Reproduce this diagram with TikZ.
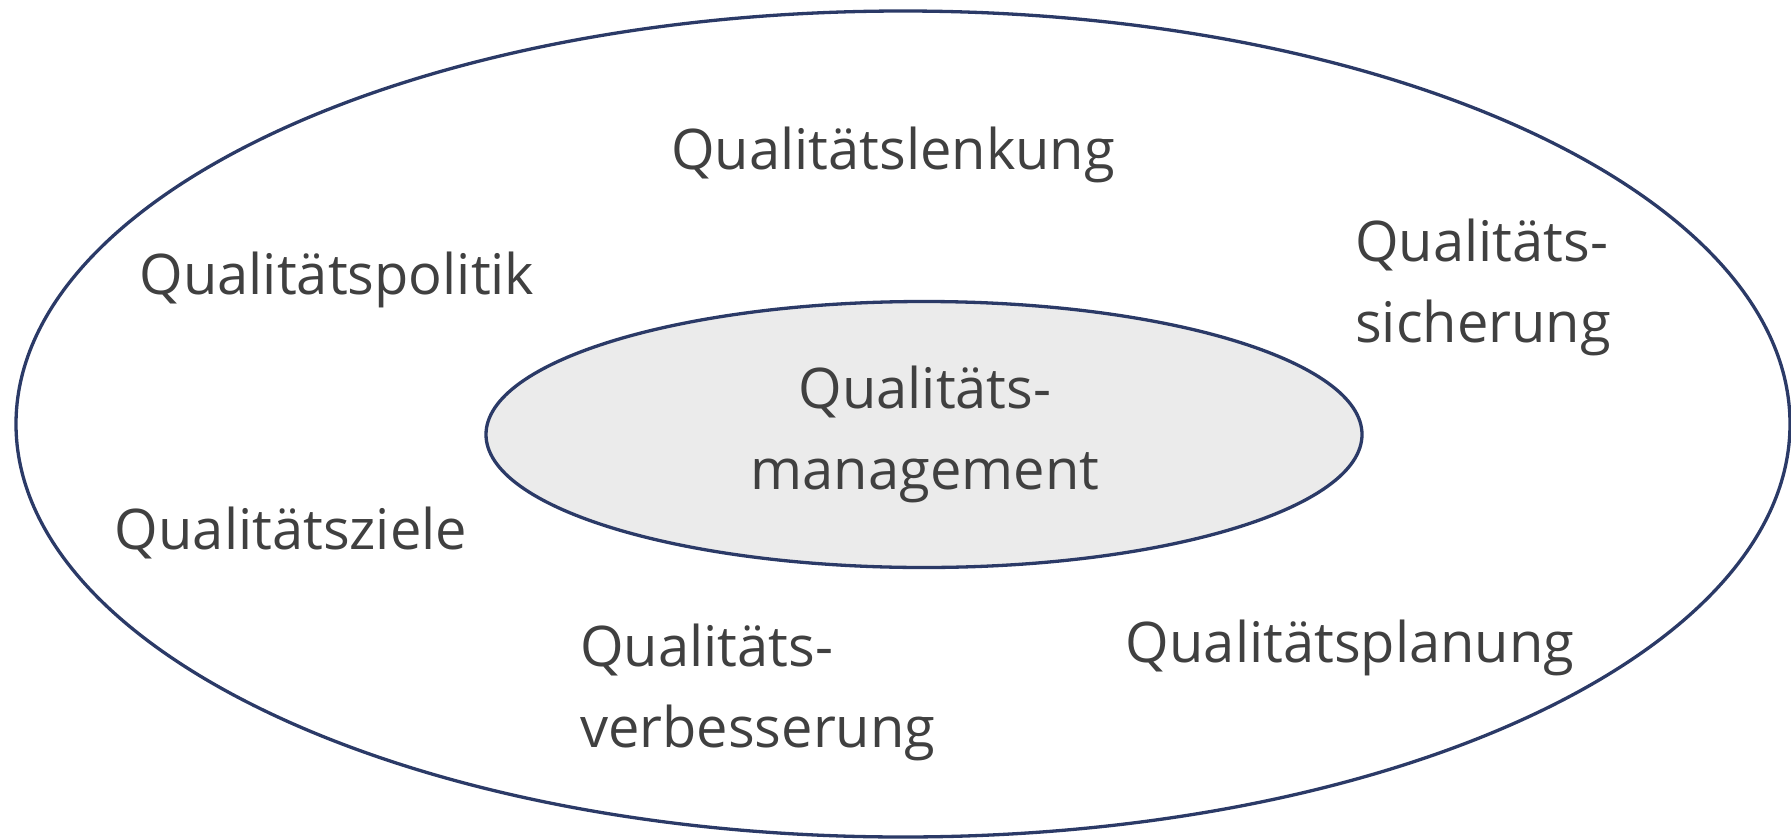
\documentclass[tikz,border=0pt]{standalone}
\usepackage{fontspec}
\setmainfont{Open Sans}
\definecolor{navy}{HTML}{2B3A67}
\definecolor{txt}{HTML}{404040}
\definecolor{innerfill}{HTML}{EBEBEB}
\begin{document}
\begin{tikzpicture}[x=1pt,y=-1pt,
  lbl/.style={text=txt,font=\fontsize{56}{81}\selectfont,inner sep=0pt},
  ring/.style={draw=navy,line width=3.3pt}]
\useasboundingbox (0,0) rectangle (1791,838);
\draw[ring] (903,424) ellipse [x radius=887pt, y radius=413pt];
\draw[ring,fill=innerfill] (924,434.5) ellipse [x radius=438pt, y radius=133pt];
\node[lbl] (lenkung) at (893,155) {Qualitätslenkung};
\node[lbl] (politik) at (337,280) {Qualitätspolitik};
\node[lbl,align=left,anchor=west] (sicherung) at (1355,287) {Qualitäts-\\sicherung};
\node[lbl,align=center] (management) at (925,434) {Qualitäts-\\management};
\node[lbl] (ziele) at (291,533) {Qualitätsziele};
\node[lbl,align=left,anchor=west] (verbesserung) at (580,692) {Qualitäts-\\verbesserung};
\node[lbl] (planung) at (1350,648) {Qualitätsplanung};
\end{tikzpicture}
\end{document}
